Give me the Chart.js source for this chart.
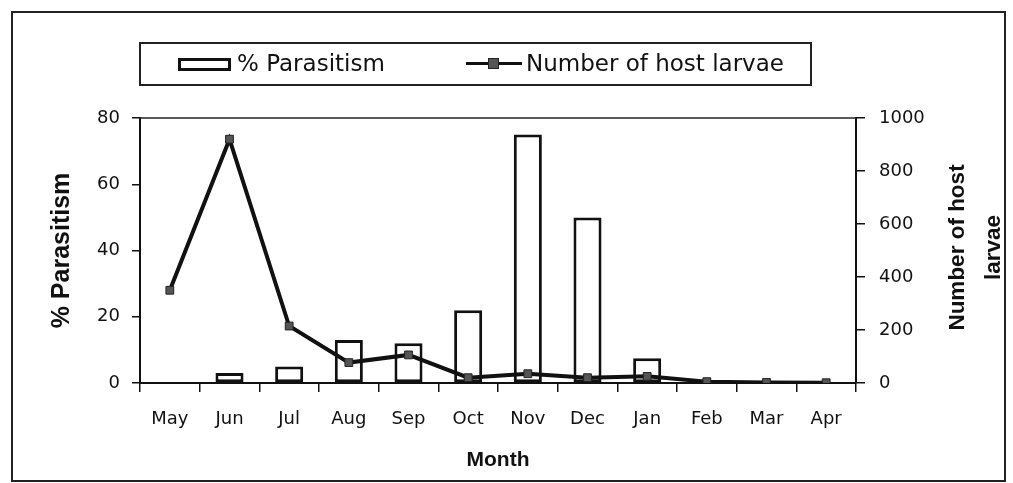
<!DOCTYPE html>
<html>
<head>
<meta charset="utf-8">
<script src="https://cdn.jsdelivr.net/npm/chart.js@4/dist/chart.umd.min.js"></script>
<style>
  body { margin: 0; background: #fff; }
  #wrap { position: relative; width: 1013px; height: 483px; }
  #frame { position: absolute; left: 11px; top: 11px; width: 995px; height: 471px; box-sizing: border-box; border: 2px solid #222; pointer-events: none; }
  #legend { position: absolute; left: 139px; top: 42px; width: 673px; height: 44px; box-sizing: border-box; border: 2px solid #222; font-family: "DejaVu Sans", sans-serif; font-size: 23px; color: #111; }
  #legend .sw-bar { position: absolute; left: 37px; top: 14px; width: 53px; height: 13px; box-sizing: border-box; border: 3px solid #111; background: #fff; }
  #legend .t1 { position: absolute; left: 96px; top: 6px; }
  #legend .sw-line { position: absolute; left: 325px; top: 18px; width: 56px; height: 3px; background: #111; }
  #legend .sw-pt { position: absolute; left: 347px; top: 14px; width: 11px; height: 11px; box-sizing: border-box; background: #555; border: 1px solid #222; }
  #legend .t2 { position: absolute; left: 385px; top: 6px; }
</style>
</head>
<body>
<div id="wrap">
  <canvas id="chart" width="1013" height="483"></canvas>
  <div id="frame"></div>
  <div id="legend">
    <div class="sw-bar"></div><span class="t1">% Parasitism</span>
    <div class="sw-line"></div><div class="sw-pt"></div><span class="t2">Number of host larvae</span>
  </div>
</div>
<script>
const months = ['May', 'Jun', 'Jul', 'Aug', 'Sep', 'Oct', 'Nov', 'Dec', 'Jan', 'Feb', 'Mar', 'Apr'];
const parasitism = [0, 3, 5, 13, 12, 22, 75, 50, 7.5, 0, 0, 0];
const hostLarvae = [350, 920, 215, 77, 106, 20, 35, 20, 25, 5, 2, 1];
const leftTicks = [0, 20, 40, 60, 80];
const rightTicks = [0, 200, 400, 600, 800, 1000];

const tickFont = { family: 'DejaVu Sans', size: 18 };

// top edge of the plot box + right title (rotated bottom-to-top like the original)
const extras = {
  id: 'extras',
  afterDraw(chart) {
    const { ctx, chartArea: a } = chart;
    ctx.save();
    ctx.strokeStyle = '#222';
    ctx.lineWidth = 1.5;
    ctx.beginPath();
    ctx.moveTo(a.left, a.top);
    ctx.lineTo(a.right, a.top);
    ctx.stroke();
    ctx.fillStyle = '#111';
    ctx.font = 'bold 22.5px "Liberation Sans", Arial, sans-serif';
    ctx.textAlign = 'center';
    ctx.textBaseline = 'middle';
    const cy = (a.top + a.bottom) / 2 - 3;
    [['Number of host', 958], ['larvae', 994]].forEach(([t, x]) => {
      ctx.save();
      ctx.translate(x, cy);
      ctx.rotate(-Math.PI / 2);
      ctx.fillText(t, 0, 0);
      ctx.restore();
    });
    ctx.restore();
  }
};

new Chart(document.getElementById('chart'), {
  type: 'bar',
  data: {
    labels: months,
    datasets: [{
      type: 'line',
      label: 'Number of host larvae',
      data: hostLarvae,
      yAxisID: 'y1',
      borderColor: '#111',
      borderWidth: 4,
      tension: 0,
      pointStyle: 'rect',
      pointRadius: 5.5,
      pointBackgroundColor: '#555',
      pointBorderColor: '#222',
      pointBorderWidth: 1,
      order: 0
    }, {
      label: '% Parasitism',
      data: parasitism,
      yAxisID: 'y',
      backgroundColor: '#fff',
      borderColor: '#111',
      borderWidth: 3,
      borderSkipped: false,
      barPercentage: 0.47,
      categoryPercentage: 1,
      order: 1
    }]
  },
  options: {
    responsive: false,
    animation: false,
    layout: { padding: { top: 118, left: 0, right: 0, bottom: 0 } },
    plugins: { legend: { display: false }, tooltip: { enabled: false } },
    scales: {
      x: {
        afterFit: s => { s.height = 100; },
        grid: { drawOnChartArea: false, tickLength: 9, color: '#111', lineWidth: 1.5 },
        border: { color: '#111', width: 2 },
        ticks: { font: tickFont, color: '#111', padding: 17, maxRotation: 0, autoSkip: false },
        title: { display: true, text: 'Month', color: '#111', font: { family: 'Liberation Sans', size: 21, weight: 'bold' }, padding: { top: 0, bottom: 10 } }
      },
      y: {
        position: 'left',
        min: 0, max: 80,
        afterFit: s => { s.width = 140; },
        afterBuildTicks: s => { s.ticks = leftTicks.map(v => ({ value: v })); },
        grid: { drawOnChartArea: false, tickLength: 8, color: '#111', lineWidth: 1.5 },
        border: { color: '#111', width: 2 },
        ticks: { font: tickFont, color: '#111', padding: 12, callback: v => String(v) },
        title: { display: true, text: '% Parasitism', color: '#111', font: { family: 'Liberation Sans', size: 25, weight: 'bold' }, padding: { top: 47, bottom: 0 } }
      },
      y1: {
        position: 'right',
        min: 0, max: 1000,
        afterFit: s => { s.width = 157; },
        afterBuildTicks: s => { s.ticks = rightTicks.map(v => ({ value: v })); },
        grid: { drawOnChartArea: false, tickLength: 9, color: '#111', lineWidth: 1.5 },
        border: { color: '#111', width: 2 },
        ticks: { font: tickFont, color: '#111', padding: 14, callback: v => String(v) }
      }
    }
  },
  plugins: [extras]
});
</script>
</body>
</html>
